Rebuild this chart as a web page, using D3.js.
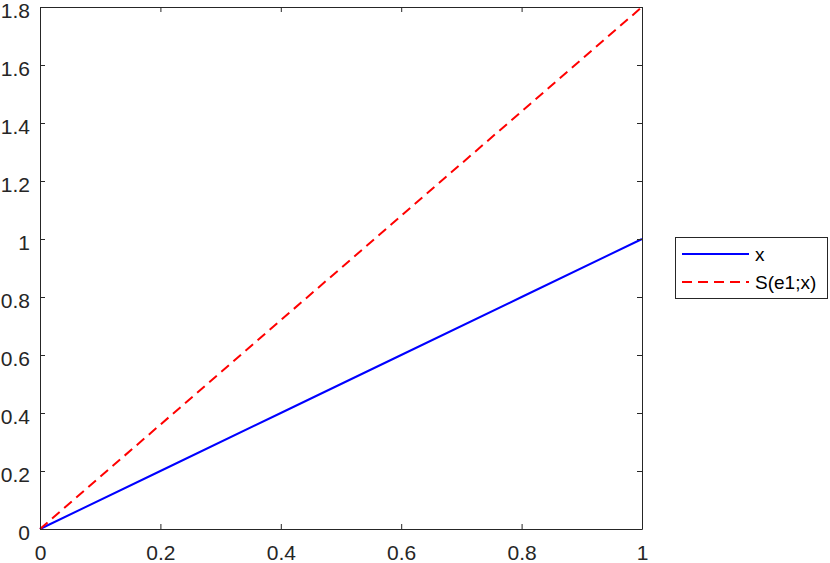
<!DOCTYPE html>
<html><head><meta charset="utf-8">
<script src="https://cdn.jsdelivr.net/npm/d3@7"></script>
<style>body{margin:0;background:#fff}svg{display:block}text{font-family:"Liberation Sans",Arial,sans-serif}</style>
</head><body><svg id="c" width="830" height="563"></svg>
<script>
const xs = [0, 0.2, 0.4, 0.6, 0.8, 1];
const seriesX = [0, 0.2, 0.4, 0.6, 0.8, 1];
const seriesS = [0, 0.36, 0.72, 1.08, 1.44, 1.8];
const xTicks = [0, 0.2, 0.4, 0.6, 0.8, 1];
const yTicks = [0, 0.2, 0.4, 0.6, 0.8, 1, 1.2, 1.4, 1.6, 1.8];
const seriesNames = ["x", "S(e1;x)"];

const svg = d3.select("#c");
const L = 40, R = 642, T = 7, B = 529;
const x = d3.scaleLinear().domain([0, 1]).range([L, R]);
const y = d3.scaleLinear().domain([0, 1.8]).range([B, T]);
const axisCol = "#262626";
const fs = 21, lfs = 19;

// data lines
const line = d3.line().x((d, i) => x(xs[i])).y(d => y(d));
svg.append("path").datum(seriesX).attr("d", line).attr("fill", "none")
  .attr("stroke", "#0000ff").attr("stroke-width", 2);
svg.append("path").datum(seriesS).attr("d", line).attr("fill", "none")
  .attr("stroke", "#ff0000").attr("stroke-width", 2).attr("stroke-dasharray", "10,6");

// axes
const tl = 5;
const fmt = d => String(+d.toFixed(2));
const ax = svg.append("g").attr("transform", `translate(0,${B})`)
  .call(d3.axisBottom(x).tickValues(xTicks).tickFormat(fmt).tickSizeInner(-tl).tickSizeOuter(0).tickPadding(16));
const axT = svg.append("g").attr("transform", `translate(0,${T})`)
  .call(d3.axisTop(x).tickValues(xTicks).tickFormat("").tickSizeInner(-tl).tickSizeOuter(0));
const ay = svg.append("g").attr("transform", `translate(${L},0)`)
  .call(d3.axisLeft(y).tickValues(yTicks).tickFormat(fmt).tickSizeInner(-tl).tickSizeOuter(0).tickPadding(10));
const ayR = svg.append("g").attr("transform", `translate(${R},0)`)
  .call(d3.axisRight(y).tickValues(yTicks).tickFormat("").tickSizeInner(-tl).tickSizeOuter(0));
[ax, axT, ay, ayR].forEach(g => {
  g.selectAll(".domain").attr("stroke", axisCol).attr("stroke-width", 1);
  g.selectAll(".tick line").attr("stroke", axisCol).attr("stroke-width", 1);
  g.selectAll(".tick text").attr("fill", axisCol).attr("font-size", fs)
    .attr("font-family", "'Liberation Sans', Arial, sans-serif");
});
ax.selectAll(".tick text").attr("dy", "0.71em");
ay.selectAll(".tick text").attr("dy", "0.5em");

// legend
const lg = svg.append("g");
lg.append("rect").attr("x", 675.5).attr("y", 237.5).attr("width", 152).attr("height", 61)
  .attr("fill", "#fff").attr("stroke", axisCol).attr("stroke-width", 1);
const rows = [{n: seriesNames[0], c: "#0000ff", d: null, y: 254}, {n: seriesNames[1], c: "#ff0000", d: "10,6", y: 282}];
rows.forEach(r => {
  const l = lg.append("line").attr("x1", 682).attr("x2", 749).attr("y1", r.y).attr("y2", r.y)
    .attr("stroke", r.c).attr("stroke-width", 2);
  if (r.d) l.attr("stroke-dasharray", r.d);
  lg.append("text").attr("x", 755).attr("y", r.y).attr("dy", "0.35em").attr("font-size", lfs)
    .attr("fill", "#000").text(r.n);
});
</script></body></html>
